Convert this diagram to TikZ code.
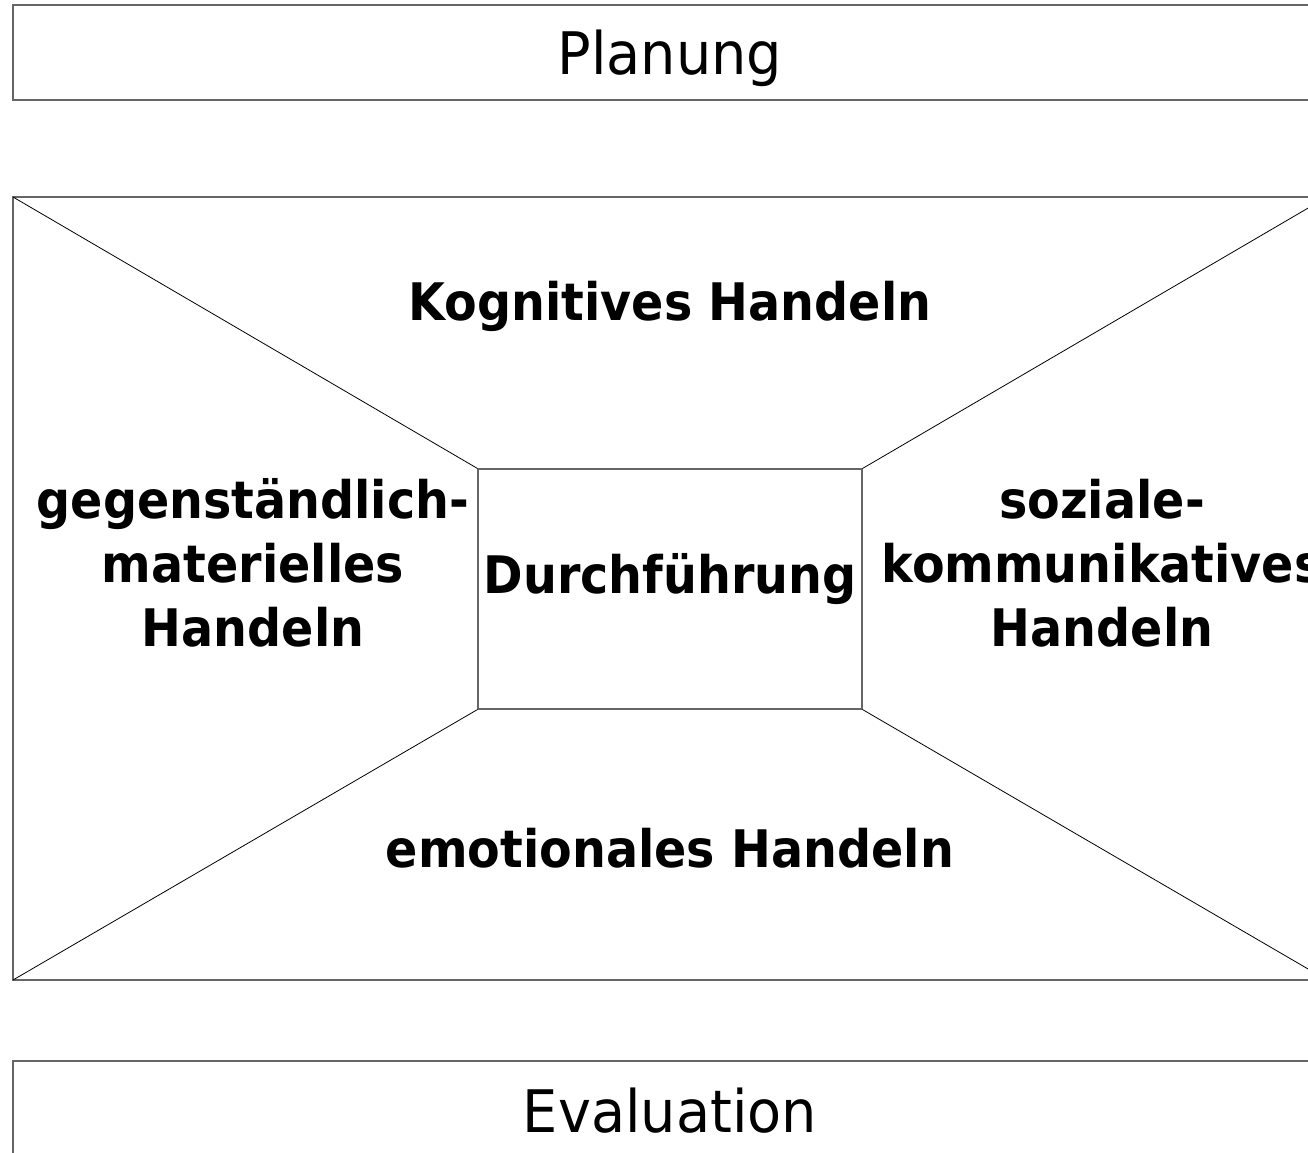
\documentclass[tikz,border=0pt]{standalone}
\usepackage{fontspec}
\setmainfont{DejaVu Sans}
\newfontfamily\boldf[FakeStretch=0.92]{DejaVu Sans Bold}
\newfontfamily\regf[FakeStretch=0.95]{DejaVu Sans}
\begin{document}
\begin{tikzpicture}[x=0.75pt,y=-0.75pt,
  frame/.style={draw=black!60,line width=1.1pt},
  diag/.style={draw=black,line width=0.6pt},
  big/.style={font=\regf\fontsize{44}{52}\selectfont},
  lbl/.style={font=\boldf\fontsize{38.8}{48}\selectfont,align=center}]
\useasboundingbox (0,0) rectangle (1308,1152);
\clip (0,0) rectangle (1308,1152);
% Planung
\draw[frame] (13,5) rectangle (1327,100);
\node[big] (plan) at (670,58) {Planung};
% main frame
\coordinate (tl) at (13,197);
\coordinate (tr) at (1327,197);
\coordinate (bl) at (13,980);
\coordinate (br) at (1327,980);
\draw[frame] (tl) rectangle (br);
\node[draw=black!60,line width=0.8pt,minimum width=384*0.75pt,minimum height=240*0.75pt,inner sep=0pt] (durch) at (670,589) {};
\node[font=\boldf\fontsize{38.8}{48}\selectfont] (dt) at (670,579) {Durchführung};
\draw[diag] (tl) -- (durch.north west);
\draw[diag] (tr) -- (durch.north east);
\draw[diag] (bl) -- (durch.south west);
\draw[diag] (br) -- (durch.south east);
\node[lbl] (kog) at (670,306) {Kognitives Handeln};
\node[lbl] (emo) at (670,848) {emotionales Handeln};
\node[lbl] (geg) at (253,563) {gegenständlich-\\materielles\\Handeln};
\node[lbl] (soz) at (1102,563) {soziale-\\kommunikatives\\Handeln};
% Evaluation
\draw[frame] (13,1061) rectangle (1327,1180);
\node[big] (eval) at (670,1111) {Evaluation};
\end{tikzpicture}
\end{document}
